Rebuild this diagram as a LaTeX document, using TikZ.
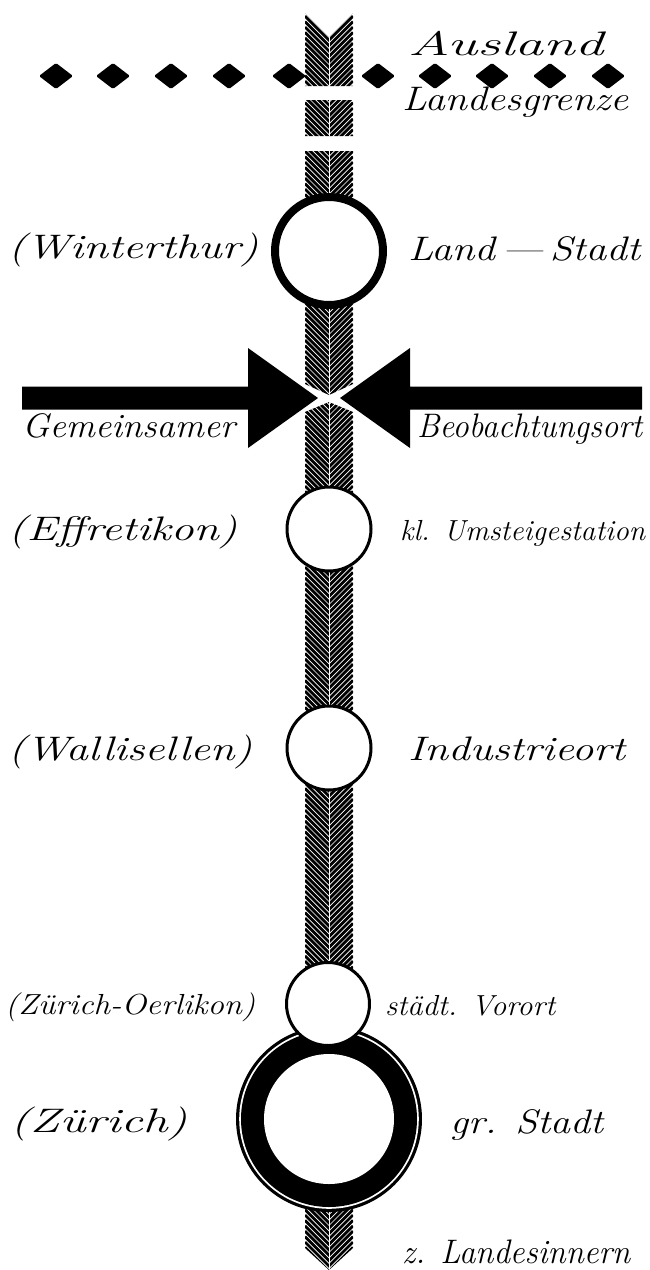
\documentclass[tikz,border=0pt]{standalone}
\usepackage{graphicx}
\newcommand\wtxt[2]{\resizebox{#1pt}{\height}{#2}}
\begin{document}
\begin{tikzpicture}[x=1pt,y=-1pt,
  lbl/.style={inner sep=0pt, anchor=base west, font=\fontsize{34}{34}\selectfont\itshape},
  lbls/.style={lbl, font=\fontsize{29}{29}\selectfont\itshape},
  diam/.style={fill=black, rounded corners=1.5pt},
  station/.style={draw=black, fill=white, line width=3pt},
  headgap/.style={draw=white, line width=6pt, line join=miter}]
\useasboundingbox (0,0) rectangle (650,1270);
\fill[white] (0,0) rectangle (650,1270);

% ---- hatched band (chevron hatching) ----
\begin{scope}
\clip (305,13) -- (329,37) -- (353,13) -- (353,86) -- (305,86) -- cycle
      (305,100) -- (353,100) -- (353,136) -- (305,136) -- cycle
      (305,151) -- (353,151) -- (353,384) -- (329,395) -- (305,384) -- cycle
      (305,412) -- (329,402) -- (353,412) -- (353,1248) -- (329,1270) -- (305,1248) -- cycle;
\fill[white] (300,0) rectangle (360,1270);
\foreach \k in {-8,...,240} {
  \draw[line width=2.8pt] (305,\k*5.4) -- (329,\k*5.4+24) -- (353,\k*5.4);
}
\draw[white, line width=1pt] (329,0) -- (329,1270);
\end{scope}

% ---- border diamonds ----
\foreach \x in {56,113,171,229,289,378,435,492,550,608} {
  \fill[diam] (\x-17,76) -- (\x,63) -- (\x+17,76) -- (\x,89) -- cycle;
}

% ---- stations ----
\draw[draw=black, fill=white, line width=8pt] (329,251) circle[radius=54];
\node[circle, minimum size=116pt, inner sep=0pt] (winterthur) at (329,251) {};
\draw[station] (329,529) circle[radius=42];
\node[circle, minimum size=87pt, inner sep=0pt] (effretikon) at (329,529) {};
\draw[station] (329,748) circle[radius=42];
\node[circle, minimum size=87pt, inner sep=0pt] (wallisellen) at (329,748) {};

% Zuerich big ring
\fill[black] (329,1119) circle[radius=93];
\fill[white] (329,1119) circle[radius=89.8];
\fill[black] (329,1119) circle[radius=88];
\fill[white] (329,1119) circle[radius=65];
\node[circle, minimum size=186pt, inner sep=0pt] (zuerich) at (329,1119) {};
\draw[station] (328,1004) circle[radius=41.5];
\node[circle, minimum size=86pt, inner sep=0pt] (oerlikon) at (328,1004) {};

% ---- observation arrows ----
\draw[headgap] (248,348) -- (318,398) -- (248,448) -- cycle;
\draw[headgap] (410,348) -- (340,398) -- (410,448) -- cycle;
\fill[black] (22,386.5) -- (248,386.5) -- (248,348) -- (318,398) -- (248,448) -- (248,409.5) -- (22,409.5) -- cycle;
\fill[black] (642,386.5) -- (410,386.5) -- (410,348) -- (340,398) -- (410,448) -- (410,409.5) -- (642,409.5) -- cycle;

% ---- labels ----
\node[lbl] (ausland) at (408,55) {\wtxt{195}{Ausland}};
\node[lbl] (grenze) at (402,110) {\wtxt{226}{Landesgrenze}};
\node[lbl] (lwinterthur) at (8,258) {\wtxt{250}{(Winterthur)}};
\node[lbl] (landstadt) at (408,260) {\wtxt{232}{Land\,—\,Stadt}};
\node[lbl] (gemeinsam) at (22,437) {\wtxt{213}{Gemeinsamer}};
\node[lbl] (beob) at (417,437) {\wtxt{225}{Beobachtungsort}};
\node[lbl] (leffretikon) at (8,540) {\wtxt{229}{(Effretikon)}};
\node[lbls] (umsteige) at (400,540) {\wtxt{245}{kl. Umsteigestation}};
\node[lbl] (lwallisellen) at (8,760) {\wtxt{244}{(Wallisellen)}};
\node[lbl] (industrie) at (408,760) {\wtxt{217}{Industrieort}};
\node[lbls] (loerlikon) at (5,1014) {\wtxt{250}{(Zürich-Oerlikon)}};
\node[lbls] (vorort) at (385,1015) {\wtxt{170}{städt. Vorort}};
\node[lbl] (lzuerich) at (10,1132) {\wtxt{177}{(Zürich)}};
\node[lbl] (grstadt) at (450,1133) {\wtxt{153}{gr. Stadt}};
\node[lbl] (inland) at (402,1263) {\wtxt{228}{z. Landesinnern}};
\end{tikzpicture}
\end{document}
